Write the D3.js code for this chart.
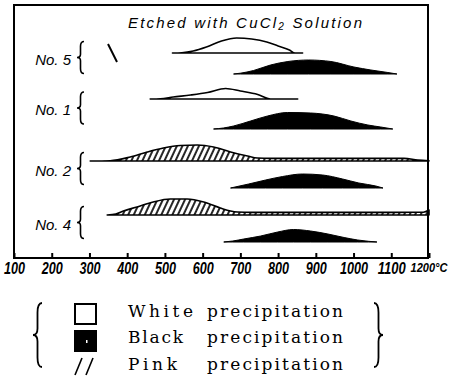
<!DOCTYPE html>
<html>
<head>
<meta charset="utf-8">
<script src="https://cdn.jsdelivr.net/npm/d3@7"></script>
<style>
  body { margin: 0; background: #fff; }
  svg { display: block; }
</style>
</head>
<body>
<div id="chart"></div>
<script>
// temperatures on the bottom scale (deg C)
const tempTicks = [100, 200, 300, 400, 500, 600, 700, 800, 900, 1000, 1100, 1200];
const samples = ["No. 5", "No. 1", "No. 2", "No. 4"];
const legendKinds = ["White", "Black", "Pink"];

// amount of precipitate vs temperature, [temp, relative amount]
const no5White = [[520,0],[545,0.3],[575,2],[610,6],[650,12],[690,15],[730,14],[770,11],[800,7],[830,3],[845,0],[865,0]];
const no5Black = [[682,0],[700,0.8],[735,3.5],[780,9],[826,12.5],[881,14],[940,12.5],[1001,7],[1046,4],[1091,1.5],[1115,0]];
const no1White = [[461,0],[488,0.3],[522,2],[568,4],[613,6.5],[661,10.5],[700,8],[746,4.5],[780,0],[852,0]];
const no1Black = [[629,0],[655,1],[682,3],[727,8],[772,13],[825,16.5],[886,16],[948,13],[993,8],[1038,4],[1072,2],[1104,0]];
const no2Pink  = [[302,0],[355,0.3],[408,4],[453,9],[496,13],[541,15.5],[586,16],[629,14],[674,9],[719,5],[745,3],[780,2.6],[900,2.6],[1050,2.6],[1134,2.6],[1170,1],[1200,0.3]];
const no2Black = [[674,0],[722,4],[767,8],[812,11.5],[865,14],[918,13],[971,9],[1014,5],[1059,2],[1078,0]];
const no4Pink  = [[347,0],[370,1],[390,4],[426,8],[469,13],[514,16],[559,16],[603,13],[647,7],[674,4],[692,3],[730,2.6],[900,2.6],[1100,2.6],[1185,2.8],[1200,5]];
const no4Black = [[656,0],[680,1],[709,3],[754,6],[799,10],[841,12.5],[886,11],[932,8],[975,4.5],[1011,2],[1040,0.7],[1062,0]];

const tracks = [
  {sample: "No. 5", kind: "White", pts: no5White},
  {sample: "No. 5", kind: "Black", pts: no5Black},
  {sample: "No. 1", kind: "White", pts: no1White},
  {sample: "No. 1", kind: "Black", pts: no1Black},
  {sample: "No. 2", kind: "Pink",  pts: no2Pink},
  {sample: "No. 2", kind: "Black", pts: no2Black},
  {sample: "No. 4", kind: "Pink",  pts: no4Pink},
  {sample: "No. 4", kind: "Black", pts: no4Black}
];

// layout
const width = 453, height = 378;
const frame = {left: 14, top: 5, right: 428, bottom: 258};
const trackBase = [53, 74, 99, 129, 161, 188, 215, 242];
const labFont = "'Liberation Sans', Arial, sans-serif";
const serif = "'DejaVu Serif', 'Liberation Serif', serif";

const svg = d3.select("#chart").append("svg")
  .attr("width", width)
  .attr("height", height);

const x = d3.scaleLinear().domain([100, 1200]).range([frame.left, 429]);
const yBase = d3.scaleOrdinal().domain(d3.range(tracks.length)).range(trackBase);
const amt = d3.scaleLinear().domain([0, 20]).range([0, 20]);

const defs = svg.append("defs");
defs.append("pattern")
  .attr("id", "hatch")
  .attr("patternUnits", "userSpaceOnUse")
  .attr("width", 5).attr("height", 10)
  .attr("patternTransform", "rotate(25)")
  .append("line")
  .attr("x1", 2).attr("y1", 0).attr("x2", 2).attr("y2", 10)
  .attr("stroke", "#000").attr("stroke-width", 1.7);

// frame
svg.append("rect")
  .attr("x", frame.left).attr("y", frame.top)
  .attr("width", frame.right - frame.left)
  .attr("height", frame.bottom - frame.top)
  .attr("fill", "none").attr("stroke", "#000").attr("stroke-width", 2);

// title
const title = svg.append("text")
  .attr("x", 128).attr("y", 28)
  .attr("font-family", labFont).attr("font-style", "italic")
  .attr("font-size", 15).attr("textLength", 234).attr("lengthAdjust", "spacing");
title.append("tspan").text("Etched with CuCl");
title.append("tspan").attr("font-size", 10).attr("dy", 2).text("2");
title.append("tspan").attr("dy", -2).text(" Solution");

// axis, ticks point inward
const xAxis = d3.axisBottom(x).tickValues(tempTicks).tickSize(-5).tickPadding(5)
  .tickFormat(d => d === 1200 ? "1200°C" : d);
const axG = svg.append("g")
  .attr("transform", "translate(0," + frame.bottom + ")")
  .call(xAxis);
axG.select(".domain").remove();
axG.selectAll(".tick line").attr("stroke", "#000").attr("stroke-width", 2);
axG.selectAll(".tick text")
  .attr("font-family", labFont).attr("font-size", 16)
  .attr("font-style", "italic").attr("font-weight", "bold").attr("fill", "#000")
  .attr("lengthAdjust", "spacingAndGlyphs")
  .attr("textLength", d => String(d).length * 7);
axG.selectAll(".tick text").filter(d => d === 1200)
  .attr("font-size", 12.5).attr("textLength", 37)
  .attr("text-anchor", "start").attr("dx", -19);

// precipitation curves
svg.selectAll("path.curve")
  .data(tracks)
  .join("path")
  .attr("class", "curve")
  .attr("d", (t, i) => d3.area()
    .x(d => x(d[0]))
    .y0(yBase(i))
    .y1(d => yBase(i) - amt(d[1]))
    .curve(d3.curveMonotoneX)(t.pts))
  .attr("fill", t => t.kind === "Black" ? "#000" : t.kind === "Pink" ? "url(#hatch)" : "#fff")
  .attr("stroke", "#000")
  .attr("stroke-width", t => t.kind === "Black" ? 1 : 1.6)
  .attr("stroke-linejoin", "round");

// brace path; dir 1 = "{", dir -1 = "}"
function brace(cx, cy, h, w, dir) {
  const t = cy - h / 2, b = cy + h / 2, m = cy;
  const xo = cx + dir * w, xm = cx + dir * w / 2, xi = cx;
  return `M${xo},${t} Q${xm},${t} ${xm},${t + h * 0.15} L${xm},${m - h * 0.1} Q${xm},${m} ${xi},${m}` +
         ` Q${xm},${m} ${xm},${m + h * 0.1} L${xm},${b - h * 0.15} Q${xm},${b} ${xo},${b}`;
}

// sample labels and braces
samples.forEach((s, k) => {
  const cy = (yBase(2 * k) + yBase(2 * k + 1)) / 2 - 6;
  svg.append("text")
    .attr("x", 71).attr("y", cy + 7)
    .attr("text-anchor", "end")
    .attr("font-family", labFont).attr("font-style", "italic")
    .attr("font-size", 15)
    .text(s);
  svg.append("path")
    .attr("d", brace(77, cy, 32, 7, 1))
    .attr("fill", "none").attr("stroke", "#000").attr("stroke-width", 1.6);
});

// stray pen mark in the original figure
svg.append("line")
  .attr("x1", 108).attr("y1", 44).attr("x2", 117).attr("y2", 62)
  .attr("stroke", "#000").attr("stroke-width", 2);

// legend
const legY = [317, 343, 370];
const lg = svg.append("g");
lg.append("path").attr("d", brace(33, 335, 64, 9, 1))
  .attr("fill", "none").attr("stroke", "#000").attr("stroke-width", 1.8);
lg.append("path").attr("d", brace(383, 335, 64, 9, -1))
  .attr("fill", "none").attr("stroke", "#000").attr("stroke-width", 1.8);

legendKinds.forEach((k, i) => {
  const y = legY[i];
  if (k === "White") {
    lg.append("rect").attr("x", 75).attr("y", y - 13).attr("width", 21).attr("height", 20)
      .attr("fill", "#fff").attr("stroke", "#000").attr("stroke-width", 2);
  } else if (k === "Black") {
    lg.append("rect").attr("x", 74).attr("y", y - 13).attr("width", 23).attr("height", 22)
      .attr("fill", "#000");
    lg.append("rect").attr("x", 86).attr("y", y - 3).attr("width", 1.5).attr("height", 3)
      .attr("fill", "#fff");
  } else {
    [0, 11].forEach(o => lg.append("line")
      .attr("x1", 75 + o).attr("y1", y + 5).attr("x2", 82 + o).attr("y2", y - 12)
      .attr("stroke", "#000").attr("stroke-width", 1.6));
  }
  const wLen = {White: 65, Black: 55, Pink: 49}[k];
  lg.append("text")
    .attr("x", 128).attr("y", y)
    .attr("font-family", serif).attr("font-size", 17)
    .attr("textLength", wLen).attr("lengthAdjust", "spacing")
    .text(k);
  lg.append("text")
    .attr("x", 207).attr("y", y)
    .attr("font-family", serif).attr("font-size", 17)
    .attr("textLength", 136).attr("lengthAdjust", "spacing")
    .text("precipitation");
});
</script>
</body>
</html>
